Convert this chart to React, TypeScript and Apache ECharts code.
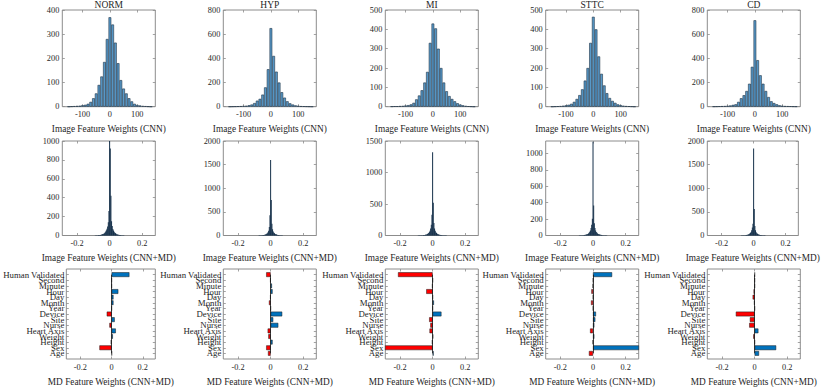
import React, { useEffect, useRef } from 'react';
import * as echarts from 'echarts';

const CLASSES = ['NORM', 'HYP', 'MI', 'STTC', 'CD'];

// Row 1: CNN image feature weight histograms (bin centres, width 10)
const CNN_BIN_CENTERS = [-150, -140, -130, -120, -110, -100, -90, -80, -70, -60, -50, -40, -30, -20, -10, 0, 10, 20, 30, 40, 50, 60, 70, 80, 90, 100, 110, 120, 130, 140, 150];
const CNN_BIN_WIDTH = 10;
const CNN_NORM = [0, 1, 2, 3, 4, 6, 8, 12, 20, 35, 55, 90, 125, 185, 280, 370, 340, 265, 180, 110, 75, 55, 35, 22, 12, 7, 5, 3, 2, 1, 0];
const CNN_HYP = [0, 1, 2, 3, 4, 6, 8, 12, 18, 30, 50, 65, 100, 160, 310, 650, 420, 290, 200, 120, 75, 45, 28, 18, 11, 7, 4, 3, 2, 1, 0];
const CNN_MI = [1, 2, 2, 3, 4, 6, 8, 12, 20, 38, 58, 85, 125, 180, 330, 430, 405, 300, 200, 125, 80, 55, 40, 28, 18, 11, 7, 4, 2, 1, 0];
const CNN_STTC = [0, 1, 2, 3, 5, 7, 10, 15, 25, 40, 60, 90, 135, 200, 330, 465, 400, 260, 170, 110, 70, 45, 30, 20, 12, 8, 5, 3, 2, 1, 0];
const CNN_CD = [1, 2, 3, 4, 5, 7, 10, 15, 20, 40, 70, 95, 130, 190, 330, 715, 385, 260, 190, 130, 80, 45, 30, 20, 12, 8, 5, 4, 3, 2, 1];
const CNN_COUNTS = [CNN_NORM, CNN_HYP, CNN_MI, CNN_STTC, CNN_CD];
const CNN_YMAX = [400, 800, 500, 500, 800];
const CNN_YTICKS = [[0, 100, 200, 300, 400], [0, 200, 400, 600, 800], [0, 100, 200, 300, 400, 500], [0, 100, 200, 300, 400, 500], [0, 200, 400, 600, 800]];
const CNN_XTICKS = [-100, 0, 100];

// Row 2: CNN+MD image feature weight histograms (bin centres, width 0.004)
const MD_BIN_CENTERS = [-0.1, -0.096, -0.092, -0.088, -0.084, -0.08, -0.076, -0.072, -0.068, -0.064, -0.06, -0.056, -0.052, -0.048, -0.044, -0.04, -0.036, -0.032, -0.028, -0.024, -0.02, -0.016, -0.012, -0.008, -0.004, 0, 0.004, 0.008, 0.012, 0.016, 0.02, 0.024, 0.028, 0.032, 0.036, 0.04, 0.044, 0.048, 0.052, 0.056, 0.06, 0.064, 0.068, 0.072, 0.076, 0.08, 0.084, 0.088, 0.092, 0.096, 0.1];
const MD_BIN_WIDTH = 0.004;
const MDH_NORM = [1, 1, 1, 2, 2, 2, 3, 3, 4, 5, 5, 6, 8, 10, 12, 15, 18, 24, 32, 42, 55, 72, 95, 140, 260, 1000, 920, 420, 150, 100, 70, 52, 40, 30, 24, 18, 14, 11, 9, 7, 6, 5, 4, 3, 3, 2, 2, 2, 1, 1, 1];
const MDH_HYP = [1, 1, 1, 1, 2, 2, 2, 3, 3, 4, 4, 5, 6, 8, 10, 12, 15, 20, 27, 36, 50, 70, 100, 180, 430, 1600, 750, 250, 130, 85, 60, 45, 34, 26, 20, 16, 12, 10, 8, 6, 5, 4, 3, 3, 2, 2, 2, 1, 1, 1, 1];
const MDH_MI = [1, 1, 1, 2, 2, 2, 3, 3, 4, 4, 5, 6, 7, 9, 11, 14, 17, 22, 30, 40, 55, 75, 110, 170, 330, 1320, 520, 200, 110, 75, 52, 38, 28, 22, 17, 13, 10, 8, 7, 6, 5, 4, 3, 3, 2, 2, 2, 1, 1, 1, 1];
const MDH_STTC = [1, 1, 1, 1, 2, 2, 2, 3, 3, 4, 4, 5, 6, 8, 10, 12, 15, 19, 25, 33, 45, 62, 90, 130, 205, 1140, 365, 150, 90, 60, 42, 32, 25, 19, 15, 12, 10, 8, 6, 5, 4, 4, 3, 3, 2, 2, 2, 1, 1, 1, 1];
const MDH_CD = [1, 1, 1, 2, 2, 2, 3, 3, 4, 4, 5, 6, 7, 9, 11, 14, 18, 23, 30, 40, 55, 75, 110, 170, 250, 1840, 560, 200, 110, 70, 50, 38, 28, 22, 17, 13, 10, 8, 7, 6, 5, 4, 3, 3, 2, 2, 2, 1, 1, 1, 1];
const MDH_COUNTS = [MDH_NORM, MDH_HYP, MDH_MI, MDH_STTC, MDH_CD];
const MDH_YMAX = [1000, 2000, 1500, 1150, 2000];
const MDH_YTICKS = [[0, 200, 400, 600, 800, 1000], [0, 500, 1000, 1500, 2000], [0, 500, 1000, 1500], [0, 200, 400, 600, 800, 1000], [0, 500, 1000, 1500, 2000]];
const MD_XTICKS = [-0.2, 0, 0.2];

// Row 3: MD feature weights (bottom to top)
const MD_FEATURES = ['Age', 'Sex', 'Height', 'Weight', 'Heart Axis', 'Nurse', 'Site', 'Device', 'Year', 'Month', 'Day', 'Hour', 'Minute', 'Second', 'Human Validated'];
const MDW_NORM = [0.002, -0.078, -0.005, 0.008, 0.027, -0.014, 0.02, -0.031, 0.001, 0.012, 0.012, 0.043, 0.001, 0.001, 0.114];
const MDW_HYP = [-0.016, -0.027, 0.012, -0.014, -0.018, 0.047, 0.016, 0.071, 0.0005, -0.01, -0.002, 0.012, 0.008, -0.002, -0.027];
const MDW_MI = [0.006, -0.32, -0.004, 0.003, -0.019, -0.014, -0.021, 0.054, 0.001, 0.008, 0.001, -0.039, -0.003, 0.001, -0.212];
const MDW_STTC = [-0.025, 0.31, -0.002, 0.008, -0.018, 0.008, 0.014, 0.018, 0.001, -0.012, 0.001, -0.01, -0.002, 0.001, 0.117];
const MDW_CD = [0.027, 0.132, 0.001, -0.008, 0.023, -0.033, -0.029, -0.115, 0.001, -0.003, -0.012, -0.006, 0.001, 0.001, 0.001];
const MDW_VALUES = [MDW_NORM, MDW_HYP, MDW_MI, MDW_STTC, MDW_CD];

const X_TITLES = ['Image Feature Weights (CNN)', 'Image Feature Weights (CNN+MD)', 'MD Feature Weights (CNN+MD)'];

// layout / style
const FONT = 'Liberation Serif';
const TEXT = '#262626';
const AXIS = '#8c8c8c';
const COL_LEFT = [62.3, 223.3, 385.3, 545.7, 707.3];
const PLOT_W = 93;
const ROW_TOP = [10, 141, 269];
const ROW_H = [96.7, 94.5, 95.3];
const CNN_XRANGE = [-174, 166];
const MD_XRANGE = [-0.29, 0.28];

const fmt = (v: number) => String(Math.round(v * 1000) / 1000);

function buildOption() {
  const grid: any[] = [];
  const xAxis: any[] = [];
  const yAxis: any[] = [];
  const series: any[] = [];
  const graphic: any[] = [];

  const tickStyle = { lineStyle: { color: AXIS, width: 0.8 } };
  const labelStyle = { fontFamily: FONT, fontSize: 8.3, color: TEXT, formatter: fmt };
  const noLine = { show: false, onZero: false };

  for (let r = 0; r < 3; r++) {
    for (let c = 0; c < 5; c++) {
      const g = r * 5 + c;
      grid.push({
        left: COL_LEFT[c], top: ROW_TOP[r], width: PLOT_W, height: ROW_H[r],
        show: true, borderColor: AXIS, borderWidth: 1, backgroundColor: 'transparent',
      });
      const xr = r === 0 ? CNN_XRANGE : MD_XRANGE;
      const xt = r === 0 ? CNN_XTICKS : MD_XTICKS;
      xAxis.push({
        gridIndex: g, type: 'value', position: 'bottom', min: xr[0], max: xr[1],
        axisLine: noLine,
        axisTick: { show: true, inside: true, length: 2.5, customValues: xt, ...tickStyle },
        axisLabel: { ...labelStyle, margin: 4, customValues: xt },
        splitLine: { show: false },
        name: X_TITLES[r], nameLocation: 'middle', nameGap: 18,
        nameTextStyle: { fontFamily: FONT, fontSize: 9.3, color: TEXT },
      });
      xAxis.push({
        gridIndex: g, type: 'value', position: 'top', min: xr[0], max: xr[1],
        axisLine: noLine,
        axisTick: { show: true, inside: true, length: 2.5, customValues: xt, ...tickStyle },
        axisLabel: { show: false },
        splitLine: { show: false },
      });
      const xIdx = 2 * g;
      const yIdx = 2 * g;

      if (r < 2) {
        const ymax = r === 0 ? CNN_YMAX[c] : MDH_YMAX[c];
        const yt = r === 0 ? CNN_YTICKS[c] : MDH_YTICKS[c];
        yAxis.push({
          gridIndex: g, type: 'value', position: 'left', min: 0, max: ymax,
          axisLine: noLine,
          axisTick: { show: true, inside: true, length: 2.5, customValues: yt, ...tickStyle },
          axisLabel: { ...labelStyle, margin: 3, customValues: yt },
          splitLine: { show: false },
        });
        yAxis.push({
          gridIndex: g, type: 'value', position: 'right', min: 0, max: ymax,
          axisLine: noLine,
          axisTick: { show: true, inside: true, length: 2.5, customValues: yt, ...tickStyle },
          axisLabel: { show: false },
          splitLine: { show: false },
        });
        const centers = r === 0 ? CNN_BIN_CENTERS : MD_BIN_CENTERS;
        const counts = r === 0 ? CNN_COUNTS[c] : MDH_COUNTS[c];
        const bw = r === 0 ? CNN_BIN_WIDTH : MD_BIN_WIDTH;
        const barPx = (bw * PLOT_W) / (xr[1] - xr[0]);
        series.push({
          type: 'bar', xAxisIndex: xIdx, yAxisIndex: yIdx,
          data: centers.map((x, i) => [x, counts[i]]),
          barWidth: barPx,
          itemStyle: r === 0
            ? { color: '#5799c9', borderColor: '#203447', borderWidth: 0.6 }
            : { color: '#15304a', borderWidth: 0 },
          silent: true,
        });
      } else {
        const cats = ['', ...MD_FEATURES, ''];
        const tickInterval = (i: number) => i > 0 && i < cats.length - 1;
        yAxis.push({
          gridIndex: g, type: 'category', position: 'left', data: cats, boundaryGap: false,
          axisLine: noLine,
          axisTick: { show: true, inside: true, length: 2.5, interval: tickInterval, ...tickStyle },
          axisLabel: { fontFamily: FONT, fontSize: 8.8, color: TEXT, margin: 2, interval: 0, lineHeight: 9 },
          splitLine: { show: false },
        });
        yAxis.push({
          gridIndex: g, type: 'category', position: 'right', data: cats, boundaryGap: false,
          axisLine: noLine,
          axisTick: { show: true, inside: true, length: 2.5, interval: tickInterval, ...tickStyle },
          axisLabel: { show: false },
          splitLine: { show: false },
        });
        const vals = MDW_VALUES[c];
        series.push({
          type: 'bar', xAxisIndex: xIdx, yAxisIndex: yIdx,
          data: ['-', ...vals.map((v) => ({
            value: v,
            itemStyle: { color: v < 0 ? '#ff0000' : '#0072bd', borderColor: '#1a1a1a', borderWidth: 0.5 },
          })), '-'],
          barWidth: 4.7,
          silent: true,
          markLine: {
            symbol: 'none', silent: true, label: { show: false },
            lineStyle: { color: '#111', width: 0.8, type: 'solid' },
            data: [[{ coord: [0, 'Human Validated'] }, { coord: [0, 'Age'] }]],
          },
        });
      }
    }
  }

  CLASSES.forEach((name, c) => {
    graphic.push({
      type: 'text', x: COL_LEFT[c] + PLOT_W / 2, y: 4.5,
      style: { text: name, fontFamily: FONT, fontSize: 9.5, fill: TEXT, textAlign: 'center', textVerticalAlign: 'middle' },
    });
  });

  return { animation: false, backgroundColor: '#ffffff', textStyle: { fontFamily: FONT }, grid, xAxis, yAxis, series, graphic };
}

export default function App() {
  const ref = useRef<HTMLDivElement>(null);
  useEffect(() => {
    if (!ref.current) return;
    const chart = echarts.init(ref.current, undefined, { renderer: 'svg' });
    chart.setOption(buildOption() as any);
    return () => chart.dispose();
  }, []);
  return (
    <div
      ref={ref}
      style={{ position: 'fixed', left: 0, top: 0, width: 822, height: 387, background: '#fff' }}
    />
  );
}
